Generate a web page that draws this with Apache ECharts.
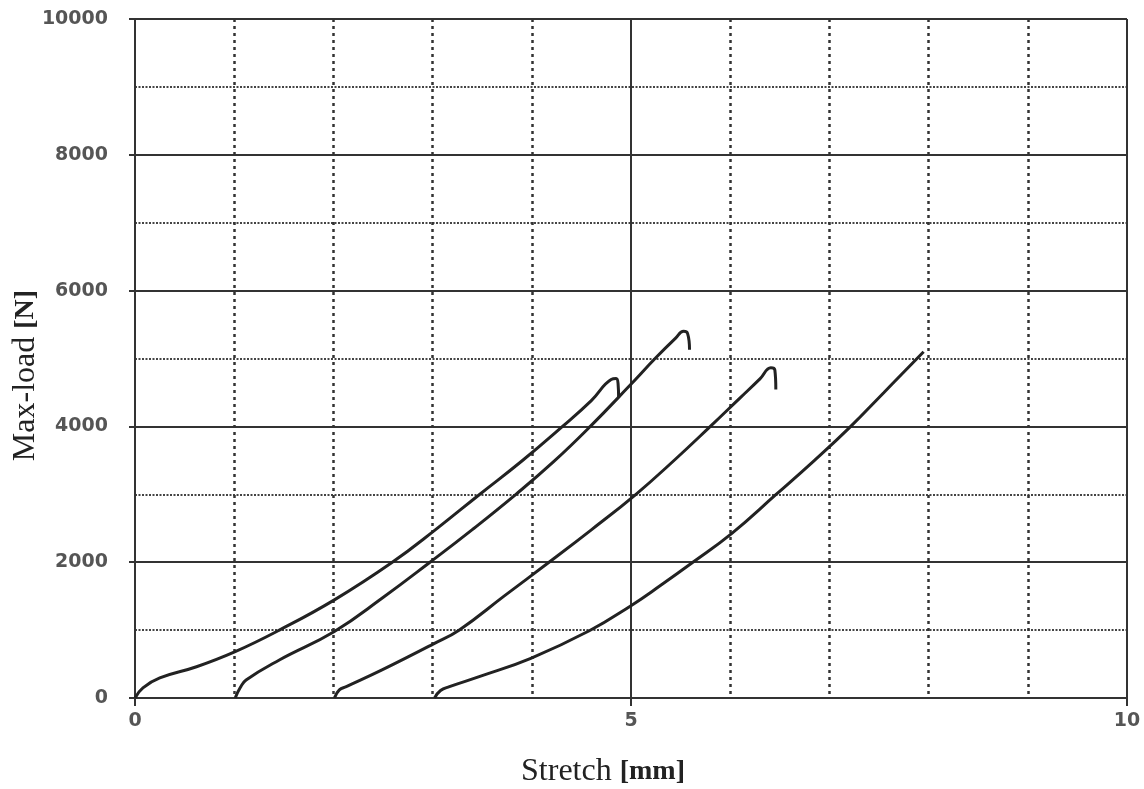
<!DOCTYPE html>
<html>
<head>
<meta charset="utf-8">
<script src="https://cdn.jsdelivr.net/npm/echarts@6/dist/echarts.min.js"></script>
<style>html,body{margin:0;padding:0;background:#fff}#c{width:1144px;height:789px}</style>
</head>
<body>
<div id="c"></div>
<script>
const xTicks = [0, 5, 10];
const yTicks = [0, 2000, 4000, 6000, 8000, 10000];
const curve1 = [[0,0],[0.08,150],[0.25,295],[0.62,460],[1.01,683],[1.455,1000],[2.01,1445],[2.59,1995],[3.03,2480],[3.47,2994],[3.9,3490],[4.31,4000],[4.6,4380],[4.8,4690],[4.85,4705],[4.87,4620],[4.875,4425]];
const curve2 = [[1.01,0],[1.06,150],[1.12,265],[1.455,560],[2.01,980],[2.5,1480],[2.97,1995],[3.4,2480],[3.84,3000],[4.22,3480],[4.59,4000],[4.98,4590],[5.25,5010],[5.45,5300],[5.53,5400],[5.57,5370],[5.59,5130]];
const curve3 = [[2.01,0],[2.06,120],[2.13,167],[2.49,413],[3.0,790],[3.27,1003],[3.72,1500],[4.17,1995],[4.6,2477],[5.05,3000],[5.45,3520],[5.8,4000],[6.1,4420],[6.3,4700],[6.41,4862],[6.45,4830],[6.46,4543]];
const curve4 = [[3.02,0],[3.08,110],[3.17,167],[3.47,314],[3.99,585],[4.58,990],[5.0,1360],[5.3,1660],[5.62,1995],[6.02,2429],[6.46,2994],[6.85,3500],[7.2,3978],[7.55,4500],[7.95,5100]];

const chart = echarts.init(document.getElementById('c'));
const lineStyle = {color:'#222', width:3};
const mk = d => ({type:'line', data:d, showSymbol:false, smooth:0.45, lineStyle:lineStyle, silent:true});
const nameStyle = {fontFamily:'Liberation Serif', fontSize:32, color:'#222',
  rich:{b:{fontFamily:'Liberation Serif', fontWeight:'bold', fontSize:28, color:'#222'}}};
chart.setOption({
  animation:false,
  backgroundColor:'#fff',
  grid:{left:135, right:17, top:19, bottom:91, containLabel:false, outerBoundsMode:'none'},
  xAxis:{
    type:'value', min:xTicks[0], max:xTicks[xTicks.length-1], interval:xTicks[1]-xTicks[0],
    name:'Stretch {b|[mm]}', nameLocation:'middle', nameGap:58, nameMoveOverlap:false,
    nameTextStyle:Object.assign({}, nameStyle, {padding:[0,56,0,0]}),
    axisLine:{show:true, onZero:false, lineStyle:{color:'#333', width:2}},
    axisTick:{show:true, length:8, lineStyle:{color:'#333', width:2}},
    axisLabel:{fontFamily:'DejaVu Sans', fontWeight:'bold', fontSize:19, color:'#555', margin:14, formatter:v=>String(v)},
    splitLine:{show:true, lineStyle:{color:'#333', width:2}},
    minorTick:{show:false, splitNumber:5},
    minorSplitLine:{show:true, lineStyle:{color:'#333', width:2.5, type:[3,4]}}
  },
  yAxis:{
    type:'value', min:yTicks[0], max:yTicks[yTicks.length-1], interval:yTicks[1]-yTicks[0],
    name:'Max-load {b|[N]}', nameLocation:'middle', nameGap:93, nameMoveOverlap:false,
    nameTextStyle:Object.assign({}, nameStyle, {padding:[0,34,0,0]}),
    axisLine:{show:true, lineStyle:{color:'#333', width:2}},
    axisTick:{show:true, length:6, lineStyle:{color:'#333', width:2}},
    axisLabel:{fontFamily:'DejaVu Sans', fontWeight:'bold', fontSize:19, color:'#555', margin:27, formatter:v=>String(v)},
    splitLine:{show:true, lineStyle:{color:'#333', width:2}},
    minorTick:{show:false, splitNumber:2},
    minorSplitLine:{show:true, lineStyle:{color:'#444', width:2, type:[2,1.5]}}
  },
  series:[mk(curve1), mk(curve2), mk(curve3), mk(curve4)]
});
</script>
</body>
</html>
